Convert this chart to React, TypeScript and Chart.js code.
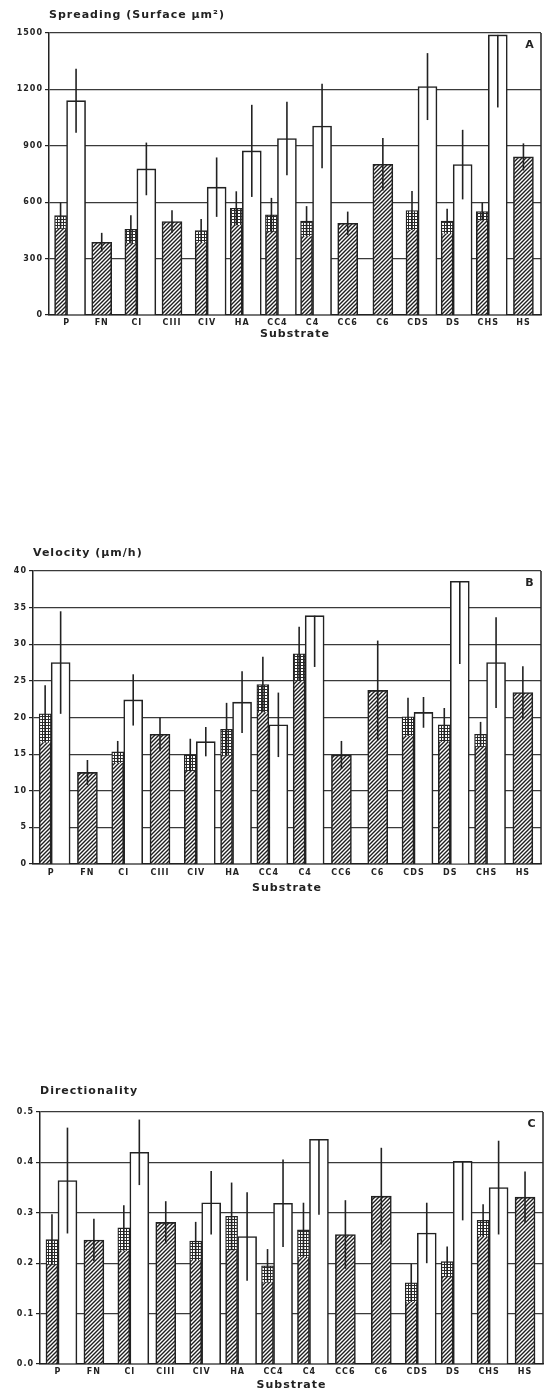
import React, { useEffect, useRef } from "react";
import { Chart, registerables } from "chart.js";

Chart.register(...registerables);

// ---------- data ----------
const categories = ["P", "FN", "CI", "CIII", "CIV", "HA", "CC4", "C4", "CC6", "C6", "CDS", "DS", "CHS", "HS"];

// Panel A: Spreading (surface µm²)
const spreadTicks = [0, 300, 600, 900, 1200, 1500];
const spreadHatched = [529, 387, 456, 497, 449, 568, 533, 499, 488, 802, 556, 499, 550, 841];
const spreadHatchedErr = [70, 50, 75, 60, 62, 90, 90, 80, 62, 140, 103, 66, 48, 72];
const spreadWhite = [1140, null, 777, null, 680, 873, 939, 1005, null, null, 1215, 800, 1490, null];
const spreadWhiteErr = [170, null, 140, null, 158, 245, 195, 225, null, null, 178, 185, 386, null];
const spreadNoUpper = ["CHS"];

// Panel B: Velocity (µm/h)
const velocityTicks = [0, 5, 10, 15, 20, 25, 30, 35, 40];
const velocityHatched = [20.5, 12.5, 15.3, 17.7, 14.9, 18.4, 24.5, 28.7, 14.9, 23.7, 20.1, 19.0, 17.7, 23.4];
const velocityHatchedErr = [3.9, 1.7, 1.5, 2.3, 2.2, 3.6, 3.8, 3.7, 1.9, 6.8, 2.6, 2.3, 1.7, 3.6];
const velocityWhite = [27.5, null, 22.4, null, 16.7, 22.1, 19.0, 33.9, null, null, 20.7, 38.6, 27.5, null];
const velocityWhiteErr = [7.0, null, 3.5, null, 2.0, 4.2, 4.4, 7.0, null, null, 2.1, 11.3, 6.2, null];
const velocityNoUpper = ["C4", "DS"];

// Panel C: Directionality
const directionTicks = [0, 0.1, 0.2, 0.3, 0.4, 0.5];
const directionHatched = [0.247, 0.246, 0.27, 0.281, 0.244, 0.293, 0.195, 0.266, 0.257, 0.333, 0.161, 0.203, 0.285, 0.331];
const directionHatchedErr = [0.05, 0.042, 0.045, 0.042, 0.038, 0.067, 0.033, 0.054, 0.068, 0.096, 0.038, 0.03, 0.032, 0.051];
const directionWhite = [0.364, null, 0.42, null, 0.32, 0.253, 0.319, 0.446, null, null, 0.26, 0.402, 0.35, null];
const directionWhiteErr = [0.105, null, 0.065, null, 0.063, 0.088, 0.087, 0.15, null, null, 0.06, 0.117, 0.093, null];
const directionNoUpper = ["C4", "DS"];

// ---------- styling ----------
const INK = "#222";
const FONT = "DejaVu Sans";
const TITLE_SIZE = 11;
const TITLE_LH = TITLE_SIZE * 1.2;

type PanelDef = {
  title: string;
  letter: string;
  ticks: number[];
  decimals: number;
  hatched: number[];
  hatchedErr: number[];
  white: (number | null)[];
  whiteErr: (number | null)[];
  noUpper: string[];
  top: number;
  height: number;
  yWidth: number;
  padRight: number;
  chartTop: number;
  titlePadTop: number;
  xHeight: number;
  tickPad: number;
  subPad: number;
};

const panels: PanelDef[] = [
  {
    title: "Spreading (Surface µm²)", letter: "A", ticks: spreadTicks, decimals: 0,
    hatched: spreadHatched, hatchedErr: spreadHatchedErr, white: spreadWhite, whiteErr: spreadWhiteErr,
    noUpper: spreadNoUpper,
    top: 0, height: 345, yWidth: 49, padRight: 3, chartTop: 33, titlePadTop: 8.5, xHeight: 30, tickPad: 3, subPad: 4.4,
  },
  {
    title: "Velocity (µm/h)", letter: "B", ticks: velocityTicks, decimals: 0,
    hatched: velocityHatched, hatchedErr: velocityHatchedErr, white: velocityWhite, whiteErr: velocityWhiteErr,
    noUpper: velocityNoUpper,
    top: 530, height: 370, yWidth: 33, padRight: 3, chartTop: 41, titlePadTop: 16.5, xHeight: 36, tickPad: 4, subPad: 5.4,
  },
  {
    title: "Directionality", letter: "C", ticks: directionTicks, decimals: 1,
    hatched: directionHatched, hatchedErr: directionHatchedErr, white: directionWhite, whiteErr: directionWhiteErr,
    noUpper: directionNoUpper,
    top: 1060, height: 332, yWidth: 40, padRight: 1, chartTop: 52, titlePadTop: 24.5, xHeight: 28, tickPad: 3, subPad: 0.4,
  },
];

function makeHatch(): CanvasPattern {
  const c = document.createElement("canvas");
  c.width = 4;
  c.height = 4;
  const g = c.getContext("2d")!;
  g.fillStyle = "#fff";
  g.fillRect(0, 0, 4, 4);
  g.strokeStyle = "#1e1e1e";
  g.lineWidth = 1.4;
  g.beginPath();
  g.moveTo(-1, 5);
  g.lineTo(5, -1);
  g.moveTo(-1, 1);
  g.lineTo(1, -1);
  g.moveTo(3, 5);
  g.lineTo(5, 3);
  g.stroke();
  return g.createPattern(c, "repeat")!;
}

function makeGrid(): CanvasPattern {
  const c = document.createElement("canvas");
  c.width = 3;
  c.height = 3;
  const g = c.getContext("2d")!;
  g.fillStyle = "#fff";
  g.fillRect(0, 0, 3, 3);
  g.fillStyle = "#2a2a2a";
  g.fillRect(0, 0, 3, 1);
  g.fillRect(0, 0, 1, 3);
  return g.createPattern(c, "repeat")!;
}

function buildConfig(p: PanelDef): any {
  const hatch = makeHatch();
  const grid = makeGrid();
  const pairedData = p.hatched.map((v, i) => (p.white[i] == null ? null : v));
  const singleData = p.hatched.map((v, i) => (p.white[i] == null ? v : null));
  const min = p.ticks[0];
  const max = p.ticks[p.ticks.length - 1];
  const step = p.ticks[1] - p.ticks[0];

  const deco = {
    id: "panelDeco",
    beforeLayout(chart: any) {
      chart.ctx.letterSpacing = "1px";
    },
    beforeDraw(chart: any) {
      chart.ctx.letterSpacing = "1px";
    },
    afterDatasetsDraw(chart: any) {
      const { ctx, chartArea, scales } = chart;
      const ys = scales.y;
      ctx.save();
      ctx.beginPath();
      ctx.rect(chartArea.left, chartArea.top, chartArea.right - chartArea.left, chartArea.bottom - chartArea.top);
      ctx.clip();

      // cross-hatched top segment of the paired hatched bars
      const m0 = chart.getDatasetMeta(0);
      m0.data.forEach((bar: any, i: number) => {
        const v = pairedData[i];
        if (v == null) return;
        const e = p.hatchedErr[i];
        const { x, width } = bar.getProps(["x", "width"], true);
        const y0 = ys.getPixelForValue(v);
        const y1 = ys.getPixelForValue(v - e);
        ctx.fillStyle = grid;
        ctx.fillRect(x - width / 2 + 1, y0 + 1, width - 2, y1 - y0 - 1);
      });

      // error bars
      ctx.strokeStyle = INK;
      ctx.lineWidth = 1.6;
      const drawErr = (dsIndex: number, vals: (number | null)[], errs: (number | null)[], allowUpper: (i: number) => boolean) => {
        const meta = chart.getDatasetMeta(dsIndex);
        meta.data.forEach((bar: any, i: number) => {
          const v = vals[i];
          const e = errs[i];
          if (v == null || e == null) return;
          const { x } = bar.getProps(["x"], true);
          const yTop = allowUpper(i) ? ys.getPixelForValue(v + e) : ys.getPixelForValue(v);
          const yBot = ys.getPixelForValue(v - e);
          ctx.beginPath();
          ctx.moveTo(x, yTop);
          ctx.lineTo(x, yBot);
          ctx.stroke();
        });
      };
      drawErr(0, pairedData, p.hatchedErr, () => true);
      drawErr(1, p.white, p.whiteErr, (i) => !p.noUpper.includes(categories[i]));
      drawErr(2, singleData, p.hatchedErr, () => true);
      ctx.restore();

      // right frame line
      ctx.save();
      ctx.strokeStyle = INK;
      ctx.lineWidth = 1.5;
      ctx.beginPath();
      ctx.moveTo(chartArea.right, chartArea.top);
      ctx.lineTo(chartArea.right, chartArea.bottom);
      ctx.stroke();
      // panel letter
      ctx.fillStyle = INK;
      ctx.font = `bold 11px "${FONT}"`;
      ctx.textAlign = "center";
      ctx.textBaseline = "middle";
      ctx.fillText(p.letter, chartArea.right - 11, chartArea.top + 12);
      ctx.restore();
    },
  };

  const barCommon = {
    borderColor: INK,
    borderWidth: 1.6,
    skipNull: true,
  };

  return {
    type: "bar",
    data: {
      labels: categories,
      datasets: [
        { ...barCommon, label: "hatched (paired)", data: pairedData, backgroundColor: hatch, barThickness: 12 },
        { ...barCommon, label: "open", data: p.white, backgroundColor: "#ffffff", barThickness: 19 },
        { ...barCommon, label: "hatched", data: singleData, backgroundColor: hatch, barThickness: 20 },
      ],
    },
    options: {
      animation: false,
      responsive: false,
      maintainAspectRatio: false,
      devicePixelRatio: 1,
      layout: { padding: { left: 0, right: p.padRight, top: 0, bottom: 0 } },
      plugins: {
        legend: { display: false },
        tooltip: { enabled: false },
        title: {
          display: true,
          text: p.title,
          align: "start",
          fullSize: false,
          color: INK,
          font: { family: FONT, size: TITLE_SIZE, weight: "bold", lineHeight: 1.2 },
          padding: { top: p.titlePadTop, bottom: p.chartTop - p.titlePadTop - TITLE_LH },
        },
      },
      scales: {
        x: {
          grid: { display: false, drawTicks: false },
          border: { display: true, color: INK, width: 1.5 },
          ticks: {
            color: INK,
            font: { family: FONT, size: 8, weight: "bold" },
            padding: p.tickPad,
            maxRotation: 0,
            autoSkip: false,
          },
          title: {
            display: true,
            text: "Substrate",
            color: INK,
            font: { family: FONT, size: 11, weight: "bold", lineHeight: 1.2 },
            padding: { top: 0, bottom: p.subPad },
          },
          afterFit: (s: any) => {
            s.height = p.xHeight;
          },
        },
        y: {
          min,
          max,
          grid: { color: "#3a3a3a", lineWidth: 1.2, drawTicks: true, tickLength: 4, tickColor: INK },
          border: { display: true, color: INK, width: 1.5 },
          ticks: {
            stepSize: step,
            color: INK,
            padding: 2,
            font: { family: FONT, size: 8, weight: "bold" },
            callback: (v: any) => Number(v).toFixed(p.decimals),
          },
          afterFit: (s: any) => {
            s.width = p.yWidth;
          },
        },
      },
    },
    plugins: [deco],
  };
}

function Panel({ p }: { p: PanelDef }) {
  const ref = useRef<HTMLCanvasElement>(null);
  useEffect(() => {
    const canvas = ref.current;
    if (!canvas) return;
    const chart = new Chart(canvas, buildConfig(p));
    return () => chart.destroy();
  }, [p]);
  return (
    <canvas
      ref={ref}
      width={544}
      height={p.height}
      style={{ position: "absolute", left: 0, top: p.top, width: 544, height: p.height, display: "block" }}
    />
  );
}

export default function App() {
  return (
    <div style={{ position: "absolute", left: 0, top: 0, width: 544, height: 1392, background: "#fff", overflow: "hidden" }}>
      {panels.map((p) => (
        <Panel key={p.letter} p={p} />
      ))}
    </div>
  );
}
